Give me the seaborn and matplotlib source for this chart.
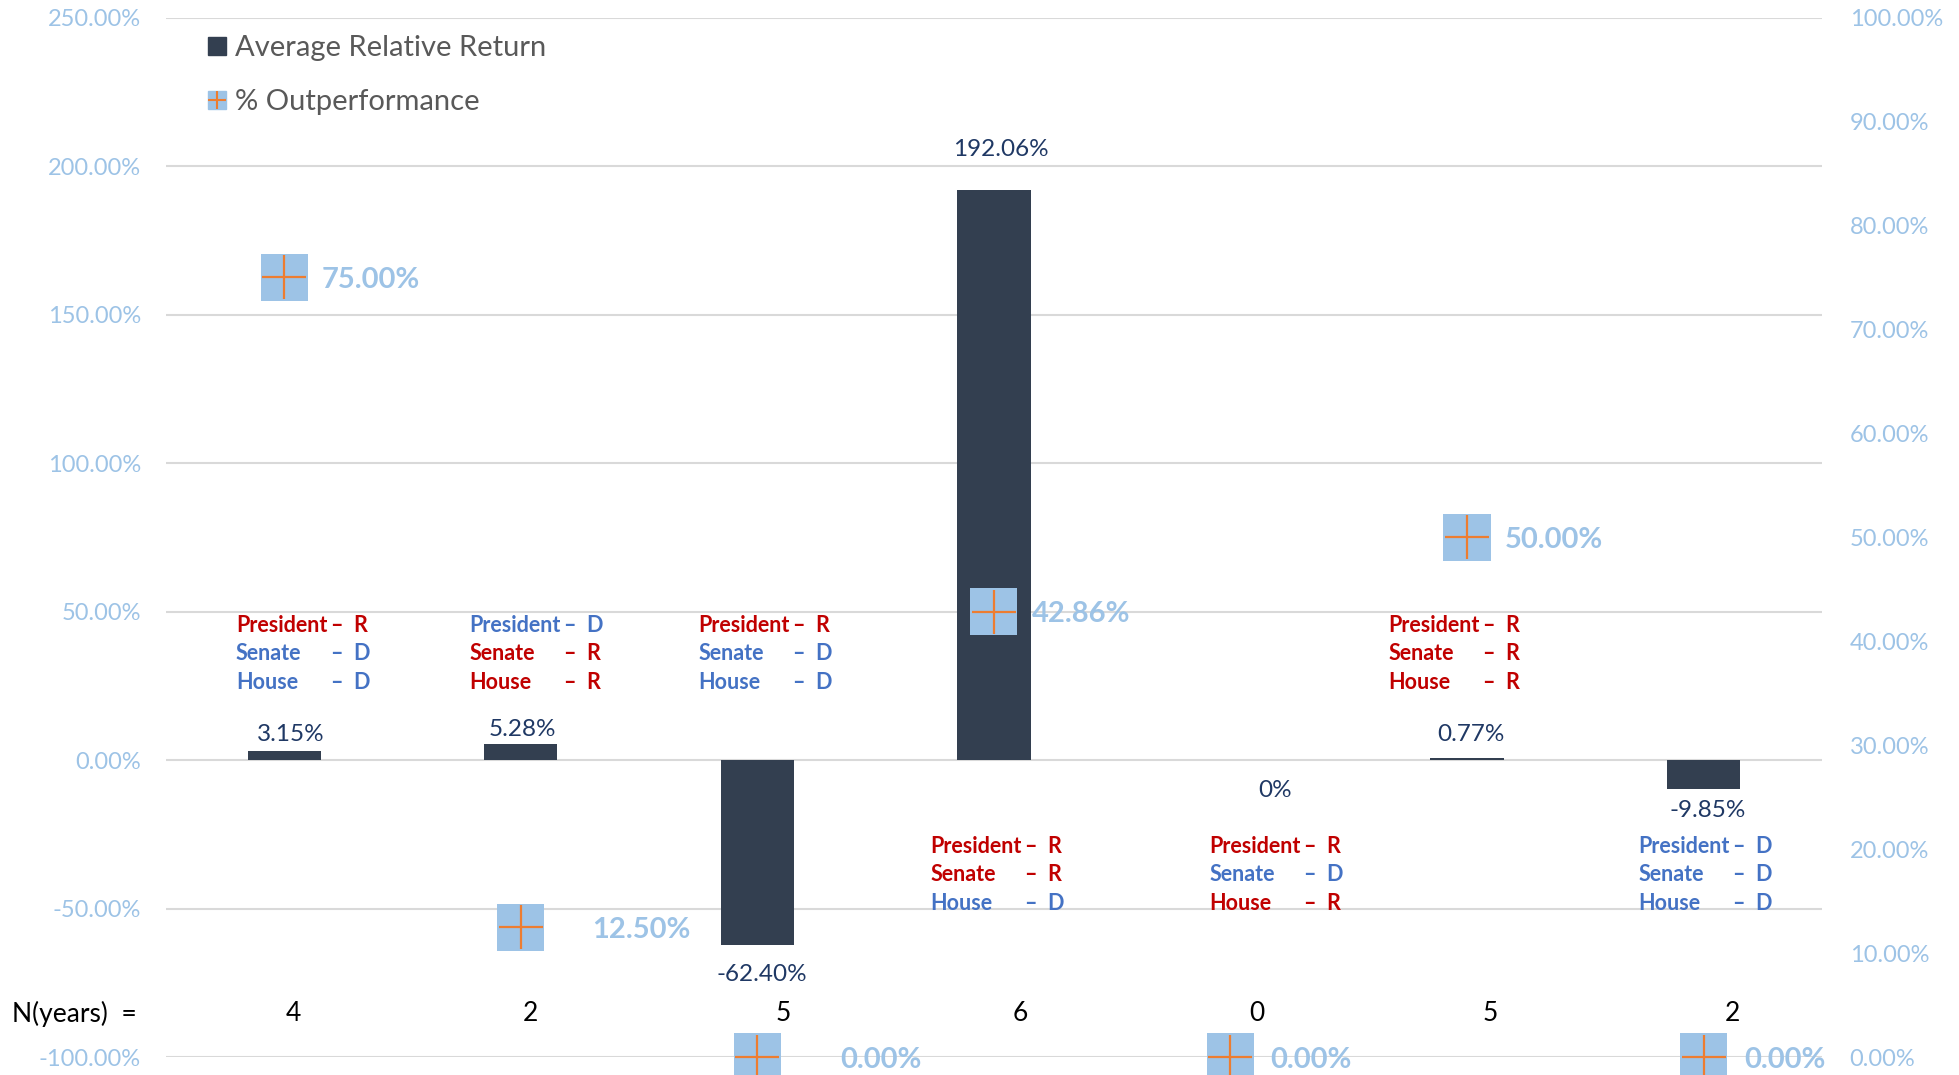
import numpy as np
import matplotlib
matplotlib.use("Agg")
import matplotlib.pyplot as plt
import matplotlib.transforms as mtransforms
from matplotlib.lines import Line2D
from matplotlib.legend_handler import HandlerTuple
import seaborn as sns

# data
periods = ["P1", "P2", "P3", "P4", "P5", "P6", "P7"]
avg_rel_return = [3.15, 5.28, -62.40, 192.06, 0.0, 0.77, -9.85]
pct_outperf = [75.00, 12.50, 0.00, 42.86, 0.00, 50.00, 0.00]
n_years = [4, 2, 5, 6, 0, 5, 2]
president = ["R", "D", "R", "R", "R", "R", "D"]
senate = ["D", "R", "D", "R", "D", "R", "D"]
house = ["D", "R", "D", "D", "R", "R", "D"]

# colours
BAR = "#333F50"
SQ = "#9DC3E6"
PLUS = "#ED7D31"
LBL = "#1F3864"
AX_TXT = "#9DC3E6"
PARTY = {"R": "#C00000", "D": "#4472C4"}

sns.set_theme(style="white")
plt.rcParams["font.family"] = ["Lato", "DejaVu Sans"]

fig = plt.figure(figsize=(19.59, 10.75), dpi=100)
ax = fig.add_axes([0.0847, 0.0167, 0.8453, 0.967])

x = np.arange(len(periods))
sns.barplot(x=x, y=avg_rel_return, color=BAR, width=0.31, saturation=1,
            linewidth=0, ax=ax, zorder=2)

ax.set_ylim(-100, 250)
ax.set_xlim(-0.5, len(periods) - 0.5)
ax.set_yticks(np.arange(-100, 251, 50))
ax.set_yticklabels([f"{v:.2f}%" for v in np.arange(-100, 251, 50)])
ax.set_xticks([])
ax.set_xlabel("")
ax.grid(axis="y", color="#D9D9D9", linewidth=1.5, zorder=0)
ax.set_axisbelow(True)
for s in ax.spines.values():
    s.set_visible(False)
ax.tick_params(axis="y", colors=AX_TXT, labelsize=17, length=0, pad=18)

# bar value labels (offsets in points)
lbl_off = [(5, 12), (1, 11), (3, -21), (5, 29), (32, -22), (3, 17), (3, -15)]
for i, v in enumerate(avg_rel_return):
    txt = "0%" if v == 0 else f"{v:.2f}%"
    ax.annotate(txt, (x[i], v), xytext=lbl_off[i], textcoords="offset points",
                ha="center", va="center", fontsize=17.5, color=LBL)

# party control blocks
block_dx = [-0.204, -0.216, -0.249, -0.267, -0.089, -0.333, -0.277]
above = [True, True, True, False, False, True, False]
for i in range(len(periods)):
    ys = [45.4, 35.8, 26.1] if above[i] else [-29.0, -38.7, -48.4]
    rows = [("President", president[i]), ("Senate", senate[i]), ("House", house[i])]
    x0 = x[i] + block_dx[i]
    for (name, p), yy in zip(rows, ys):
        ax.text(x0, yy, name, ha="left", va="center", fontsize=15.5,
                fontweight="bold", color=PARTY[p])
        ax.text(x0 + 0.40, yy, f"–  {p}", ha="left", va="center", fontsize=15.5,
                fontweight="bold", color=PARTY[p])

# N(years) row
ny = -85.4
n_dx = [0.04, 0.04, 0.11, 0.11, 0.11, 0.10, 0.12]
for i, n in enumerate(n_years):
    ax.text(x[i] + n_dx[i], ny, str(n), ha="center", va="center", fontsize=19,
            color="black")
tr = mtransforms.blended_transform_factory(fig.transFigure, ax.transData)
ax.text(0.006, ny, "N(years)  =", transform=tr, ha="left", va="center",
        fontsize=19, color="black")

# secondary axis: % outperformance markers
ax2 = ax.twinx()
sns.scatterplot(x=x, y=pct_outperf, marker="s", s=1150, color=SQ,
                edgecolor="none", ax=ax2, clip_on=False, zorder=3)
sns.scatterplot(x=x, y=pct_outperf, marker="+", s=1000, color=PLUS,
                linewidth=1.6, ax=ax2, clip_on=False, zorder=4)
ax2.set_ylim(0, 100)
ax2.set_yticks(np.arange(0, 101, 10))
ax2.set_yticklabels([f"{v:.2f}%" for v in np.arange(0, 101, 10)])
ax2.tick_params(axis="y", colors=AX_TXT, labelsize=17, length=0, pad=20)
for s in ax2.spines.values():
    s.set_visible(False)
ax2.grid(False)

mk_dx = [0.16, 0.30, 0.35, 0.16, 0.17, 0.16, 0.17]
for i, v in enumerate(pct_outperf):
    ax2.annotate(f"{v:.2f}%", (x[i] + mk_dx[i], v), xytext=(0, -2),
                 textcoords="offset points", ha="left", va="center",
                 fontsize=21, fontweight="bold", color=SQ, annotation_clip=False)

# legend
h_bar = Line2D([], [], marker="s", color=BAR, linestyle="none", markersize=13)
h_sq = Line2D([], [], marker="s", color=SQ, linestyle="none", markersize=13)
h_pl = Line2D([], [], marker="+", color=PLUS, linestyle="none", markersize=13,
              markeredgewidth=1.5)
ax2.legend([h_bar, (h_sq, h_pl)], ["Average Relative Return", "% Outperformance"],
           handler_map={tuple: HandlerTuple(ndivide=1)},
           loc="upper left", bbox_to_anchor=(0.01, 1.008), frameon=False,
           fontsize=21, labelcolor="#595959", labelspacing=0.95,
           handlelength=0.6, handletextpad=0.3)

fig.savefig("out.png", dpi=100)
